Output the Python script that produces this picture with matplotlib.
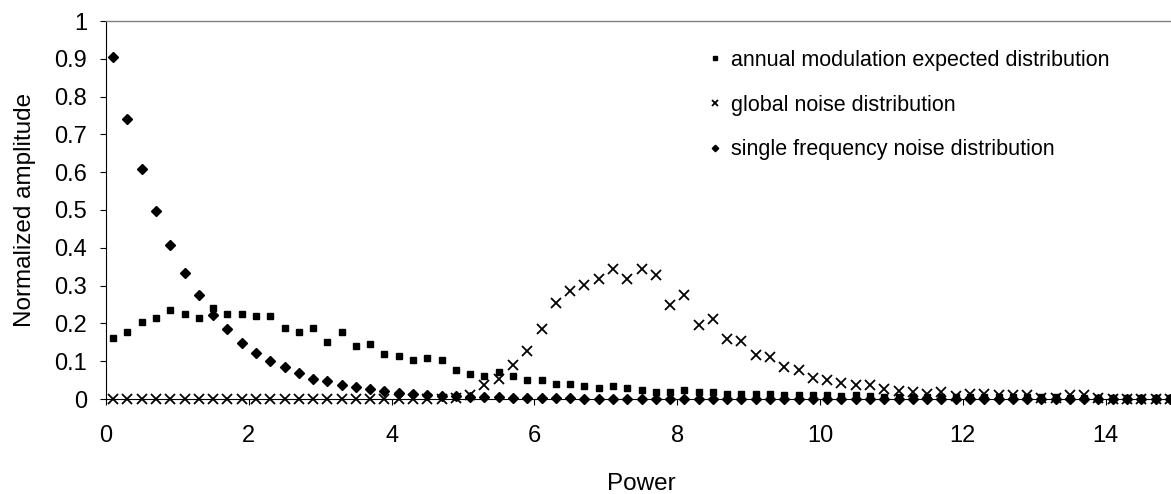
"""Plot normalized amplitude distributions against spectral power."""

import matplotlib

matplotlib.use("Agg")
import matplotlib.pyplot as plt  # noqa: E402
import numpy as np  # noqa: E402
from matplotlib.ticker import FuncFormatter, MultipleLocator  # noqa: E402


OUTPUT_PATH = "out.png"
FONT_FAMILY = ["Liberation Sans", "DejaVu Sans"]

# Power bins (bin centres, step 0.2)
POWER = np.round(np.arange(0.1, 15.0, 0.2), 1)

ANNUAL_MODULATION = [
    0.161, 0.177, 0.204, 0.214, 0.236, 0.225, 0.214, 0.241, 0.225, 0.225,
    0.220, 0.220, 0.188, 0.177, 0.188, 0.151, 0.177, 0.140, 0.146, 0.119,
    0.114, 0.103, 0.108, 0.103, 0.076, 0.065, 0.060, 0.071, 0.060, 0.049,
    0.049, 0.039, 0.039, 0.034, 0.028, 0.034, 0.028, 0.023, 0.018, 0.018,
    0.023, 0.018, 0.018, 0.012, 0.012, 0.012, 0.012, 0.010, 0.010, 0.011,
    0.011, 0.007, 0.010, 0.007, 0.006, 0.006, 0.006, 0.005, 0.005, 0.005,
    0.005, 0.004, 0.004, 0.004, 0.004, 0.004, 0.004, 0.003, 0.003, 0.003,
    0.003, 0.003, 0.003, 0.003, 0.003,
]

GLOBAL_NOISE = [
    0.0, 0.0, 0.0, 0.0, 0.0, 0.0, 0.0, 0.0, 0.0, 0.0,
    0.0, 0.0, 0.0, 0.0, 0.0, 0.0, 0.0, 0.0, 0.0, 0.0,
    0.0, 0.0, 0.0, 0.0, 0.003, 0.010, 0.036, 0.052, 0.089, 0.126,
    0.184, 0.253, 0.285, 0.301, 0.317, 0.343, 0.317, 0.343, 0.327, 0.248,
    0.274, 0.195, 0.211, 0.158, 0.153, 0.116, 0.110, 0.084, 0.078, 0.056,
    0.051, 0.042, 0.037, 0.037, 0.026, 0.022, 0.018, 0.012, 0.018, 0.008,
    0.012, 0.013, 0.010, 0.010, 0.010, 0.003, 0.003, 0.010, 0.010, 0.002,
    0.001, 0.001, 0.001, 0.001, 0.001,
]

SINGLE_FREQUENCY_NOISE = [
    0.905, 0.740, 0.608, 0.497, 0.407, 0.333, 0.274, 0.221, 0.184, 0.147,
    0.121, 0.100, 0.084, 0.068, 0.052, 0.047, 0.036, 0.031, 0.026, 0.020,
    0.016, 0.014, 0.011, 0.009, 0.007, 0.006, 0.005, 0.004, 0.003, 0.003,
    0.002, 0.002, 0.002, 0.001, 0.001, 0.001, 0.001, 0.001, 0.0, 0.0,
    0.0, 0.0, 0.0, 0.0, 0.0, 0.0, 0.0, 0.0, 0.0, 0.0,
    0.0, 0.0, 0.0, 0.0, 0.0, 0.0, 0.0, 0.0, 0.0, 0.0,
    0.0, 0.0, 0.0, 0.0, 0.0, 0.0, 0.0, 0.0, 0.0, 0.0,
    0.0, 0.0, 0.0, 0.0, 0.0,
]

SERIES_LABELS = (
    "annual modulation expected distribution",
    "global noise distribution",
    "single frequency noise distribution",
)


def main() -> None:
    plt.rcParams["font.family"] = FONT_FAMILY

    fig_w, fig_h = 1171, 494
    fig = plt.figure(figsize=(fig_w / 100, fig_h / 100), dpi=100)
    # plot area runs past the right edge of the canvas (x = 15 is cut off)
    ax = fig.add_axes([106 / fig_w, 95 / fig_h, 1071 / fig_w, 378 / fig_h])

    marker_kw = dict(linestyle="none", color="black", clip_on=False)
    ax.plot(POWER, ANNUAL_MODULATION, marker="s", markersize=5.0,
            label=SERIES_LABELS[0], **marker_kw)
    ax.plot(POWER, GLOBAL_NOISE, marker="x", markersize=6.5,
            markeredgewidth=1.3, label=SERIES_LABELS[1], **marker_kw)
    ax.plot(POWER, SINGLE_FREQUENCY_NOISE, marker="D", markersize=4.7,
            label=SERIES_LABELS[2], **marker_kw)

    ax.set_xlim(0, 15)
    ax.set_ylim(0, 1)
    ax.xaxis.set_major_locator(MultipleLocator(2))
    ax.yaxis.set_major_locator(MultipleLocator(0.1))
    ax.yaxis.set_major_formatter(FuncFormatter(lambda v, _: f"{v:g}"))

    ax.tick_params(axis="both", direction="out", length=4.5, width=0.8,
                   labelsize=17, colors="black")
    ax.tick_params(axis="x", pad=14)
    ax.tick_params(axis="y", pad=9)

    for side in ("left", "bottom"):
        ax.spines[side].set_color("black")
        ax.spines[side].set_linewidth(0.8)
    ax.spines["top"].set_color("#808080")
    ax.spines["top"].set_linewidth(1.0)
    ax.spines["right"].set_visible(False)

    ax.set_xlabel("Power", fontsize=17.5, labelpad=19)
    ax.set_ylabel("Normalized amplitude", fontsize=17.5, labelpad=13)

    ax.legend(
        loc="upper left",
        bbox_to_anchor=(706 / fig_w, 1 - 50 / fig_h),
        bbox_transform=fig.transFigure,
        frameon=False,
        fontsize=15.5,
        numpoints=1,
        markerscale=0.7,
        borderpad=0,
        borderaxespad=0,
        handlelength=0.8,
        handletextpad=0.35,
        labelspacing=1.1,
    )

    fig.savefig(OUTPUT_PATH, dpi=100)
    print(f"Saved chart: {OUTPUT_PATH}")


if __name__ == "__main__":
    main()
